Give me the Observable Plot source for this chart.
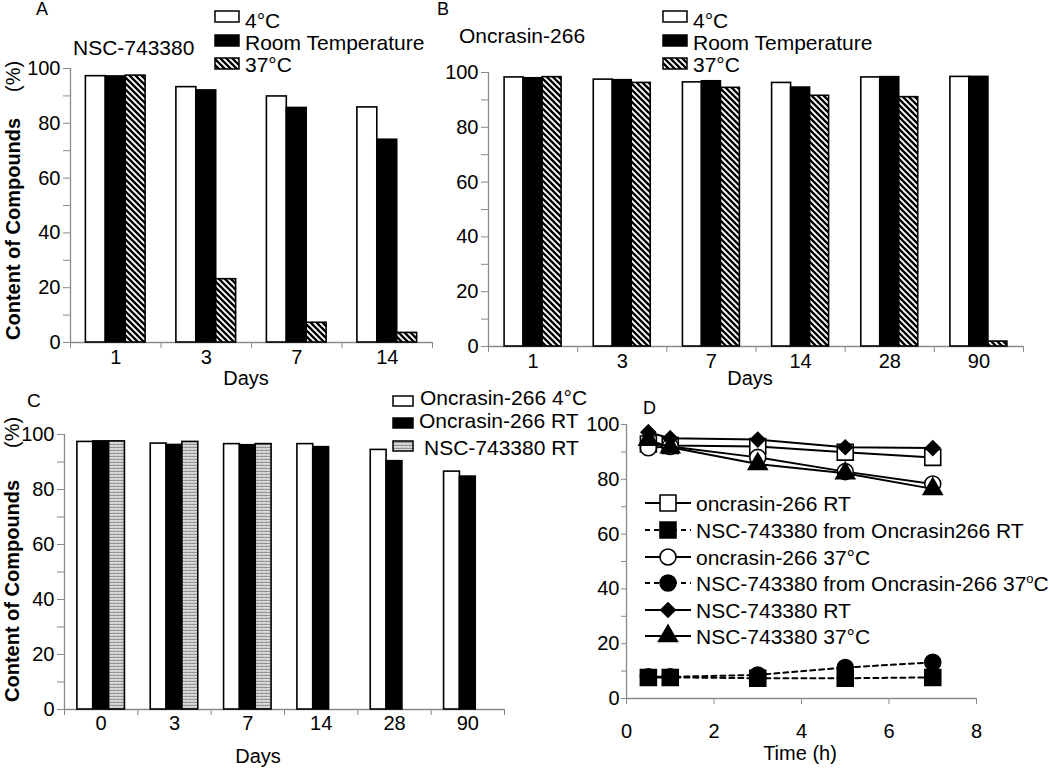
<!DOCTYPE html>
<html><head><meta charset="utf-8">
<script src="https://cdn.jsdelivr.net/npm/d3@7"></script>
<script src="https://cdn.jsdelivr.net/npm/@observablehq/plot@0.6"></script>
<style>
body{margin:0;background:white;}
#root{position:relative;width:1050px;height:770px;overflow:hidden;font-family:"Liberation Sans",Arial,sans-serif;background:white;}
.panel{position:absolute;}
#overlay{position:absolute;left:0;top:0;pointer-events:none;}
</style></head><body><div id="root"></div>
<script>
// ---------- DATA ----------
// Panel A: NSC-743380
const daysA = ["1", "3", "7", "14"];
const a4C  = [97.2, 93.2, 89.8, 85.8];
const aRT  = [97.1, 92.0, 85.6, 74.0];
const a37C = [97.4, 23.1, 7.2, 3.5];
// Panel B: Oncrasin-266
const daysB = ["1", "3", "7", "14", "28", "90"];
const b4C  = [98.2, 97.4, 96.4, 96.2, 98.2, 98.4];
const bRT  = [97.9, 97.2, 96.8, 94.5, 98.3, 98.4];
const b37C = [98.3, 96.2, 94.4, 91.5, 91.0, 1.8];
const legendAB = ["4°C", "Room Temperature", "37°C"];
// Panel C
const daysC = ["0", "3", "7", "14", "28", "90"];
const cOnc4C = [97.3, 96.7, 96.5, 96.5, 94.4, 86.5];
const cOncRT = [97.5, 96.2, 96.1, 95.4, 90.3, 84.7];
const cNscRT = [97.5, 97.3, 96.5, null, null, null];
const legendC = ["Oncrasin-266 4°C", "Oncrasin-266 RT", "NSC-743380 RT"];
// Panel D
const timeD = [0.5, 1, 3, 5, 7];
const dOncRT      = [92.9, 92.3, 92.0, 89.9, 88.0];
const dNscFromRT  = [7.7, 7.7, 7.4, 7.4, 7.7];
const dOnc37      = [91.5, 92.0, 88.0, 82.8, 78.3];
const dNscFrom37  = [7.9, 7.9, 8.6, 11.3, 13.2];
const dNscRT      = [97.2, 95.0, 94.5, 91.7, 91.4];
const dNsc37      = [94.4, 91.7, 85.6, 82.2, 76.5];
const legendD = ["oncrasin-266 RT", "NSC-743380 from Oncrasin266 RT", "oncrasin-266 37°C",
                 "NSC-743380 from Oncrasin-266 37oC", "NSC-743380 RT", "NSC-743380 37°C"];
const yTicks = d3.range(0, 101, 10);
const xTicksD = [0, 2, 4, 6, 8];

// ---------- STYLE ----------
const FONT = '"Liberation Sans", Arial, sans-serif';
const GRAY = "#8a8a8a";
const root = d3.select("#root");

function place(node, left, top) {
  const div = root.append("div").attr("class", "panel").style("left", left + "px").style("top", top + "px");
  div.node().appendChild(node);
}
const baseStyle = {background: "transparent", overflow: "visible", fontFamily: FONT, fontSize: "20px", color: "black"};

function barPanel(days, seriesVals, fills, o) {
  const n = days.length, bw = o.bw;
  const marks = [
    Plot.ruleY([0], {stroke: GRAY, strokeWidth: 1.3}),
    Plot.ruleX([0], {stroke: GRAY, strokeWidth: 1.3}),
    Plot.axisY(yTicks, {tickSize: 7, tickPadding: 3, stroke: GRAY, fill: "black", label: null,
      tickFormat: d => d % 20 === 0 ? String(d) : ""}),
    Plot.axisX(d3.range(n + 1), {tickSize: 6, stroke: GRAY, label: null, tickFormat: () => ""}),
    Plot.axisX(d3.range(n).map(i => i + 0.5), {tickSize: 0, tickPadding: o.pad, fill: "black", label: null,
      tickFormat: d => days[Math.floor(d)]})
  ];
  seriesVals.forEach((vals, s) => {
    const rows = vals.map((v, i) => ({i, v})).filter(d => d.v != null);
    marks.push(Plot.rect(rows, {
      x1: d => d.i + 0.5 + (s - 1.5) * bw,
      x2: d => d.i + 0.5 + (s - 0.5) * bw,
      y1: 0, y2: "v", fill: fills[s], stroke: "black", strokeWidth: 1.6
    }));
  });
  return Plot.plot({
    width: o.width, height: o.height,
    marginLeft: o.ml, marginRight: o.mr, marginTop: o.mt, marginBottom: o.mb,
    x: {domain: [0, n]}, y: {domain: [0, 100]},
    style: baseStyle, marks
  });
}

place(barPanel(daysA, [a4C, aRT, a37C], ["white", "black", "url(#hatch)"],
  {bw: 0.22, pad: 7, width: 450, height: 400, ml: 70, mr: 18, mt: 68, mb: 58}), 0, 0);
place(barPanel(daysB, [b4C, bRT, b37C], ["white", "black", "url(#hatch)"],
  {bw: 0.213, pad: 7, width: 600, height: 400, ml: 48, mr: 17, mt: 72, mb: 54}), 440, 0);
place(barPanel(daysC, [cOnc4C, cOncRT, cNscRT], ["white", "black", "url(#zig)"],
  {bw: 0.216, pad: 6, width: 520, height: 390, ml: 64, mr: 16, mt: 54, mb: 61}), 0, 380);

// Panel D
const dVals = [dOncRT, dNscFromRT, dOnc37, dNscFrom37, dNscRT, dNsc37];
const dStyle = [
  {symbol: "square", r: 9, fill: "white", dash: null},
  {symbol: "square", r: 9, fill: "black", dash: "5,4"},
  {symbol: "circle", r: 8, fill: "white", dash: null},
  {symbol: "circle", r: 8, fill: "black", dash: "5,4"},
  {symbol: "diamond2", r: 6.5, fill: "black", dash: null},
  {symbol: "triangle", r: 7, fill: "black", dash: null}
];
const dMarks = [
  Plot.ruleY([0], {stroke: GRAY, strokeWidth: 1.3}),
  Plot.ruleX([0], {stroke: GRAY, strokeWidth: 1.3}),
  Plot.axisY(yTicks, {tickSize: 5, tickPadding: 2, stroke: GRAY, fill: "black", label: null,
    tickFormat: d => d % 20 === 0 ? String(d) : ""}),
  Plot.axisX(xTicksD, {tickSize: 6, tickPadding: 19, stroke: GRAY, fill: "black", label: null})
];
dVals.forEach((vals, s) => {
  const rows = vals.map((v, i) => ({t: timeD[i], v}));
  const st = dStyle[s];
  dMarks.push(Plot.line(rows, {x: "t", y: "v", stroke: "black", strokeWidth: 2, strokeDasharray: st.dash || undefined}));
  dMarks.push(Plot.dot(rows, {x: "t", y: "v", symbol: st.symbol, r: st.r, fill: st.fill, stroke: "black", strokeWidth: 1.6}));
});
place(Plot.plot({
  width: 490, height: 390, marginLeft: 66, marginRight: 74, marginTop: 44, marginBottom: 72,
  x: {domain: [0, 8]}, y: {domain: [0, 100]}, style: baseStyle, marks: dMarks
}), 560, 380);

// ---------- OVERLAY: labels, legends, patterns ----------
const ov = root.append("svg").attr("id", "overlay").attr("width", 1050).attr("height", 770)
  .style("font-family", FONT);
const defs = ov.append("defs");
const ph = defs.append("pattern").attr("id", "hatch").attr("patternUnits", "userSpaceOnUse")
  .attr("width", 6).attr("height", 6);
ph.append("rect").attr("width", 6).attr("height", 6).attr("fill", "white");
ph.append("path").attr("d", "M0,0 L6,6 M5,-1 L7,1 M-1,5 L1,7").attr("stroke", "black").attr("stroke-width", 2.3);
const pz = defs.append("pattern").attr("id", "zig").attr("patternUnits", "userSpaceOnUse")
  .attr("width", 4).attr("height", 3);
pz.append("rect").attr("width", 4).attr("height", 3).attr("fill", "white");
pz.append("path").attr("d", "M0,2.5 L1,0.5 L2,2.5 L3,0.5 L4,2.5").attr("fill", "none").attr("stroke", "#666").attr("stroke-width", 0.7);

function txt(x, y, s, o = {}) {
  return ov.append("text").attr("x", x).attr("y", y).attr("font-size", o.size || 20)
    .attr("font-weight", o.weight || "normal").attr("text-anchor", o.anchor || "start")
    .attr("fill", "black").text(s);
}
function vtxt(x, y, s, o = {}) {
  return ov.append("text").attr("transform", `translate(${x},${y}) rotate(-90)`)
    .attr("font-size", o.size || 20).attr("font-weight", o.weight || "normal")
    .attr("fill", "black").text(s);
}

// panel letters & titles
txt(36, 15, "A", {size: 18});
txt(437, 15, "B", {size: 18});
txt(27, 407, "C", {size: 19});
txt(643, 414, "D", {size: 18});
txt(73, 55, "NSC-743380", {size: 21});
txt(459, 43, "Oncrasin-266", {size: 21});

// axis titles
vtxt(20, 340, "Content of Compounds", {weight: "bold"});
vtxt(20, 92, "(%)");
vtxt(19, 702, "Content of Compounds", {weight: "bold"});
vtxt(19, 448, "(%)");
txt(246, 385, "Days", {anchor: "middle"});
txt(750, 385, "Days", {anchor: "middle"});
txt(258, 763, "Days", {anchor: "middle"});
txt(800, 760, "Time (h)", {anchor: "middle"});

// legends A and B
const fillsAB = ["white", "black", "url(#hatch)"];
[[215, 245], [663, 693]].forEach(([bx, tx]) => {
  const boxY = [11, 35, 58], baseY = [28, 50, 72];
  legendAB.forEach((lab, i) => {
    ov.append("rect").attr("x", bx).attr("y", boxY[i]).attr("width", 24).attr("height", 11)
      .attr("fill", fillsAB[i]).attr("stroke", "black").attr("stroke-width", 1.5);
    txt(tx, baseY[i], lab, {size: 21});
  });
});
// legend C
const fillsC = ["white", "black", "url(#zig)"];
const cBoxY = [396, 418, 441], cBase = [405, 428, 455], cTx = [420, 419, 424];
legendC.forEach((lab, i) => {
  ov.append("rect").attr("x", 393).attr("y", cBoxY[i]).attr("width", 20).attr("height", 10)
    .attr("fill", fillsC[i]).attr("stroke", "black").attr("stroke-width", 1.5);
  txt(cTx[i], cBase[i], lab, {size: 21});
});
// legend D
const symMap = {square: d3.symbolSquare, circle: d3.symbolCircle, diamond2: d3.symbolDiamond2, triangle: d3.symbolTriangle};
const dRowY = [503, 530, 557, 583, 610, 636];
legendD.forEach((lab, i) => {
  const st = dStyle[i], y = dRowY[i];
  ov.append("line").attr("x1", 645).attr("x2", 691).attr("y1", y).attr("y2", y)
    .attr("stroke", "black").attr("stroke-width", 2).attr("stroke-dasharray", st.dash || null);
  ov.append("path").attr("transform", `translate(668,${y})`)
    .attr("d", d3.symbol(symMap[st.symbol], st.r * st.r * Math.PI)())
    .attr("fill", st.fill).attr("stroke", "black").attr("stroke-width", 1.6);
  const m = lab.match(/^(.*\d)oC$/);
  const t = txt(696, y + 7.5, m ? m[1] : lab, {size: 21});
  if (m) {
    t.append("tspan").attr("font-size", 13).attr("dy", -8).text("o");
    t.append("tspan").attr("dy", 8).text("C");
  }
});
</script></body></html>
